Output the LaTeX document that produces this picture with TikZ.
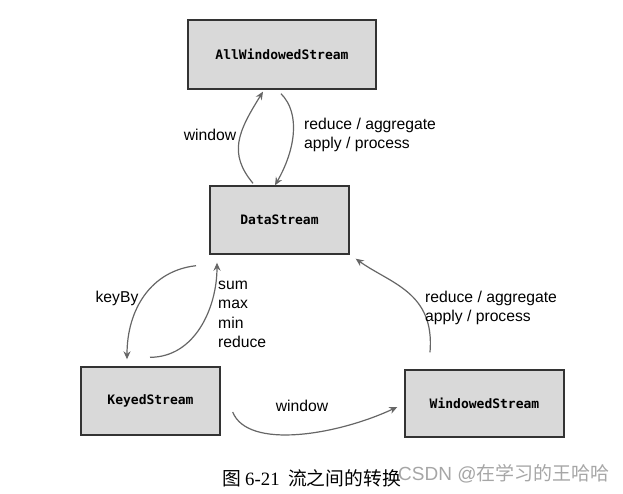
\documentclass[tikz,border=0pt]{standalone}
\usepackage{fontspec}
\usepackage{xcolor}
\setmainfont{Liberation Sans}
\setmonofont{DejaVu Sans Mono}
\newfontfamily\cjk{Noto Sans CJK SC}
\newfontfamily\capserif{Liberation Serif}
\usetikzlibrary{arrows.meta}

\definecolor{boxgray}{HTML}{D9D9D9}
\definecolor{linegray}{HTML}{666666}

\begin{document}
\begin{tikzpicture}[x=1pt, y=-1pt,
    stream/.style={rectangle, draw=black!80, line width=1.4pt, fill=boxgray,
      font=\fontsize{13}{15}\selectfont\ttfamily\bfseries, inner sep=0pt},
    flow/.style={-{Stealth[length=8pt, width=7pt]}, draw=linegray, line width=1.2pt},
    lbl/.style={font=\fontsize{15.7}{19.5}\selectfont, align=left, inner sep=0pt}]
    \useasboundingbox (0,0) rectangle (623,493);
%    \draw [help lines, opacity=0.5, step=50] (0,0) grid (623,493);
    %% the four streams
    \node (aws) [stream, minimum width=188pt, minimum height=69pt] at (282,54.5) {AllWindowedStream};
    \node (ds) [stream, minimum width=139pt, minimum height=68pt] at (279.5,220) {DataStream};
    \node (ks) [stream, minimum width=139pt, minimum height=68pt] at (150.5,401) {KeyedStream};
    \node (ws) [stream, minimum width=159pt, minimum height=67pt] at (484.5,403.5) {WindowedStream};

    %% DataStream <-> AllWindowedStream
    \draw [flow] ([shift={(-26.5,-2)}]ds.north) .. controls +(-25,-30) and +(-25,40) .. ([shift={(-19,2)}]aws.south);
    \draw [flow] ([shift={(-1,4)}]aws.south) .. controls +(20,20) and +(20,-35) .. ([shift={(-4.5,0)}]ds.north);
    \node (win1) [lbl] at (210,135) {window};
    \node (red1) [lbl, anchor=west] at (304,135) {reduce / aggregate\\apply / process};

    %% DataStream <-> KeyedStream
    \draw [flow] ([shift={(-83.5,11)}]ds.south) .. controls +(-45,5) and +(0,-50) .. ([shift={(-23.5,-7)}]ks.north);
    \draw [flow] ([shift={(-0.5,-9)}]ks.north) .. controls +(45,0) and +(0,45) .. ([shift={(-62.5,8)}]ds.south);
    \node (kb) [lbl] at (117,298) {keyBy};
    \node (agg) [lbl, anchor=west] at (218,314.5) {sum\\max\\min\\reduce};

    %% KeyedStream -> WindowedStream -> DataStream
    \draw [flow] ([shift={(12,11)}]ks.east) .. controls +(15,38) and +(-60,28) .. ([shift={(-7,3.5)}]ws.west);
    \draw [flow] ([shift={(-54.5,-17)}]ws.north) .. controls +(5,-60) and +(35,25) .. ([shift={(6,4)}]ds.south east);
    \node (win2) [lbl] at (302,406) {window};
    \node (red2) [lbl, anchor=west] at (425,308) {reduce / aggregate\\apply / process};

    %% caption and mark
    \node (cap) [inner sep=0pt, anchor=west, font=\fontsize{18.8}{22}\selectfont] at (222,478)
      {\cjk 图\ {\capserif 6-21}\ \ 流之间的转换};
    \node (mark) [inner sep=0pt, anchor=west, text=black!35, font=\fontsize{19}{22}\selectfont] at (398,474)
      {CSDN @\cjk 在学习的王哈哈};
\end{tikzpicture}
\end{document}
